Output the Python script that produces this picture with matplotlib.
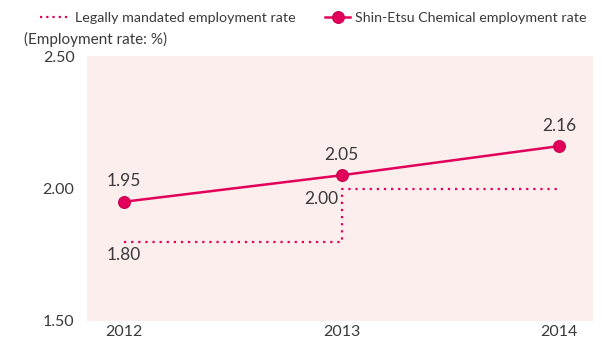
import matplotlib.pyplot as plt
from matplotlib.lines import Line2D

plt.rcParams['font.family'] = ['Lato', 'DejaVu Sans']

years = [2012, 2013, 2014]
company_rate = [1.95, 2.05, 2.16]
legal_rate = [1.80, 2.00, 2.00]
yticks = [1.50, 2.00, 2.50]

red = '#e2005a'
text_color = '#3a3a3a'

fig = plt.figure(figsize=(6.02, 3.40), dpi=100)
ax = fig.add_axes([87 / 602, 19 / 340, 506 / 602, 265 / 340])
ax.set_facecolor('#fbeeed')

# legal rate changes in steps
ax.step(years, legal_rate, where='post', color=red, linestyle=(0, (1, 2.2)),
        linewidth=1.6, zorder=2)
ax.plot(years, company_rate, color=red, linewidth=1.8, marker='o',
        markersize=8.5, markeredgecolor='#c8004e', markeredgewidth=0.8, zorder=3)

for x, y in zip(years, company_rate):
    ax.annotate(f'{y:.2f}', (x, y), xytext=(0, 9), textcoords='offset points',
                ha='center', va='bottom', fontsize=12.5, color=text_color)
ax.annotate(f'{legal_rate[0]:.2f}', (years[0], legal_rate[0]), xytext=(0, -4),
            textcoords='offset points', ha='center', va='top', fontsize=12.5,
            color=text_color)
ax.annotate(f'{legal_rate[1]:.2f}', (years[1], legal_rate[1]), xytext=(-2, -2),
            textcoords='offset points', ha='right', va='top', fontsize=12.5,
            color=text_color)

ax.set_xlim(2011.83, 2014.156)
ax.set_ylim(1.5, 2.5)
ax.set_xticks(years)
ax.set_xticklabels([str(y) for y in years])
ax.set_yticks(yticks)
ax.set_yticklabels([f'{v:.2f}' for v in yticks])
ax.tick_params(length=0, labelsize=11.5, colors=text_color)
ax.tick_params(axis='y', pad=9)
ax.tick_params(axis='x', pad=3)
for s in ax.spines.values():
    s.set_visible(False)

# two legend entries placed separately along the top
legal_handle = Line2D([], [], color=red, linestyle=(0, (1, 1.8)), linewidth=1.6)
company_handle = Line2D([], [], color=red, linewidth=1.8, marker='o', markersize=8.5,
                        markeredgecolor='#c8004e', markeredgewidth=0.8)
fig.legend([legal_handle], ['Legally mandated employment rate'],
           loc='center left', bbox_to_anchor=(40 / 602, 1 - 18 / 340),
           frameon=False, fontsize=10.3, handlelength=1.96, handletextpad=0.49,
           labelcolor=text_color, borderaxespad=0, borderpad=0)
fig.legend([company_handle], ['Shin-Etsu Chemical employment rate'],
           loc='center left', bbox_to_anchor=(325 / 602, 1 - 18 / 340),
           frameon=False, fontsize=10.3, handlelength=1.75, handletextpad=0.35,
           labelcolor=text_color, borderaxespad=0, borderpad=0)

fig.text(24 / 602, 1 - 39 / 340, '(Employment rate: %)', fontsize=11,
         color=text_color, ha='left', va='center')

fig.savefig('out.png', dpi=100)
